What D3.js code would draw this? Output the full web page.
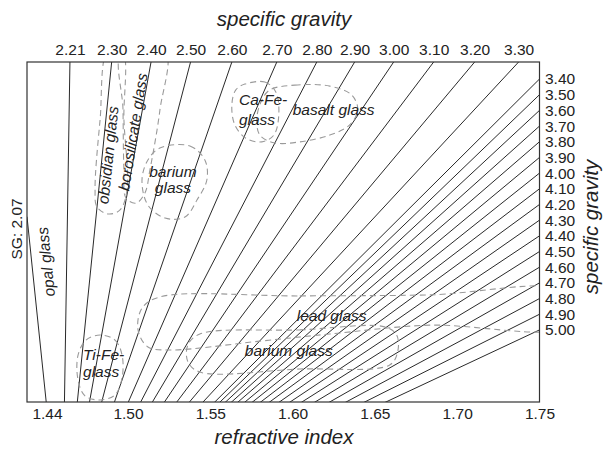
<!DOCTYPE html>
<html><head><meta charset="utf-8">
<script src="https://cdn.jsdelivr.net/npm/d3@7"></script>
<style>
html,body{margin:0;padding:0;background:#fff;}
svg{display:block;}
text{font-family:"Liberation Sans",Arial,Helvetica,sans-serif;fill:#222;}
</style></head><body>
<svg id="chart" width="604" height="449"></svg>
<script>
// ---- data ----
const riTicks = [1.44, 1.50, 1.55, 1.60, 1.65, 1.70, 1.75];
const topSG = [2.21, 2.30, 2.40, 2.50, 2.60, 2.70, 2.80, 2.90, 3.00, 3.10, 3.20, 3.30];
// refractive index where each SG line meets the top edge
const topRI = [1.4570, 1.4879, 1.5140, 1.5380, 1.5631, 1.5904, 1.6147, 1.6377, 1.6614, 1.6857, 1.7106, 1.7373];
const rightSG = [3.40, 3.50, 3.60, 3.70, 3.80, 3.90, 4.00, 4.10, 4.20, 4.30, 4.40, 4.50, 4.60, 4.70, 4.80, 4.90, 5.00];
const opalSG = 2.07;
const opalLeftT = 54.5;            // relative height where SG 2.07 meets the left edge
const fanOrigin = [1.4511, -44.7]; // common point of the SG lines [RI, relative height]

// glass fields: [refractive index, relative height]
const obsidian = [[1.4852,103.5],[1.4956,103.5],[1.4970,82.9],[1.4993,62.4],[1.4941,56.5],[1.4852,55.3],[1.4770,57.4],[1.4756,62.4],[1.4793,82.9]];
const borosilicate = [[1.4956,103.5],[1.5225,103.5],[1.5194,85.9],[1.5133,68.2],[1.5103,61.5],[1.5049,58.5],[1.4985,60.0],[1.4970,68.2],[1.4963,85.9]];
const bariumUpper = [[1.5194,74.7],[1.5376,75.3],[1.5467,71.2],[1.5479,65.3],[1.5419,59.4],[1.5346,54.4],[1.5225,54.1],[1.5121,57.9],[1.5085,65.3],[1.5121,71.2]];
const caFe = [[1.5710,93.5],[1.5831,94.1],[1.5898,91.2],[1.5916,84.4],[1.5886,78.5],[1.5813,76.5],[1.5716,77.6],[1.5649,81.5],[1.5631,87.4],[1.5655,91.8]];
const basalt = [[1.5862,91.8],[1.6013,93.2],[1.6226,92.9],[1.6359,90.3],[1.6396,85.9],[1.6347,81.5],[1.6226,78.5],[1.6044,76.5],[1.5892,76.2],[1.5801,78.5],[1.5783,83.5],[1.5813,88.8]];
const tiFe = [[1.4793,19.7],[1.4904,18.2],[1.4956,13.8],[1.4956,7.1],[1.4904,2.1],[1.4793,0.6],[1.4681,1.8],[1.4630,6.5],[1.4630,13.8],[1.4689,18.2]];
const lead = [[1.5194,30.9],[1.6044,31.2],[1.6833,31.5],[1.7621,32.9],[1.7621,27.1],[1.7621,21.8],[1.6833,22.6],[1.6226,20.0],[1.5801,17.9],[1.5255,15.3],[1.5121,16.2],[1.5061,21.2],[1.5085,27.6]];
const bariumLower = [[1.5437,20.0],[1.6044,21.2],[1.6559,22.1],[1.6632,19.7],[1.6638,14.7],[1.6590,10.9],[1.6044,9.7],[1.5437,8.8],[1.5364,11.8],[1.5364,16.8]];
const fields = [obsidian, borosilicate, bariumUpper, caFe, basalt, tiFe, lead, bariumLower];

const labelTexts = ["SG: 2.07", "opal glass", "obsidian glass", "borosilicate glass", "barium", "glass", "Ca-Fe-", "glass", "basalt glass", "Ti-Fe-", "glass", "lead glass", "barium glass"];
const labelRI =    [1.4178, 1.4393, 1.4852, 1.5030, 1.5273, 1.5273, 1.5674, 1.5674, 1.6001, 1.4667, 1.4667, 1.6025, 1.5710];
const labelT =     [50.9, 41.2, 72.6, 79.4, 66.2, 61.5, 87.4, 81.5, 84.4, 12.4, 7.4, 23.8, 13.5];
const labelRot =   [-90, -96, -84, -81, 0, 0, 0, 0, 0, 0, 0, 0, 0];

// ---- layout ----
const svg = d3.select("#chart");
const L = 27, R = 539.5, T = 62, B = 402;
const x = d3.scaleLinear().domain([1.4252, 1.44, 1.50, 1.75]).range([L, 47, 128, R]);
const y = d3.scaleLinear().domain([0, 100]).range([B, T]);
const ySG = d3.scaleLinear().domain([3.4, 5.0]).range([y(95.0), y(21.2)]);
const fmt = d3.format(".2f");
const font = '"Liberation Sans",Arial,Helvetica,sans-serif';

svg.append("defs").append("clipPath").attr("id", "frameClip")
  .append("rect").attr("x", L).attr("y", T).attr("width", R - L).attr("height", B - T);

const plot = svg.append("g").attr("clip-path", "url(#frameClip)");

// SG lines
const P = [x(fanOrigin[0]), y(fanOrigin[1])];
const ends = [];
ends.push([x(x.domain()[0]), y(opalLeftT)]);
topRI.forEach(r => ends.push([x(r), y(100)]));
rightSG.forEach(s => ends.push([x(1.75), ySG(s)]));
plot.selectAll("line.sg").data(ends).join("line")
  .attr("class", "sg")
  .attr("x1", P[0]).attr("y1", P[1])
  .attr("x2", d => d[0]).attr("y2", d => d[1])
  .attr("stroke", "#111").attr("stroke-width", 0.9);

// glass fields
const outline = d3.line().x(d => x(d[0])).y(d => y(d[1])).curve(d3.curveCatmullRomClosed.alpha(0.5));
plot.selectAll("path.field").data(fields).join("path")
  .attr("class", "field")
  .attr("d", outline)
  .attr("fill", "none").attr("stroke", "#9a9a9a").attr("stroke-width", 1.1)
  .attr("stroke-dasharray", "6,4");

// frame
svg.append("rect").attr("x", L).attr("y", T).attr("width", R - L).attr("height", B - T)
  .attr("fill", "none").attr("stroke", "#333").attr("stroke-width", 1.2);

// axes
const styleAxis = g => {
  g.select(".domain").remove();
  g.selectAll("text").attr("font-family", font).attr("font-size", 15.5).attr("fill", "#222");
};
svg.append("g").attr("transform", `translate(0,${B})`)
  .call(d3.axisBottom(x).tickValues(riTicks).tickFormat(fmt).tickSize(0).tickPadding(6))
  .call(styleAxis);
svg.append("g").attr("transform", `translate(0,${T})`)
  .call(d3.axisTop(x).tickValues(topRI).tickFormat((d, i) => fmt(topSG[i])).tickSize(0).tickPadding(7))
  .call(styleAxis);
svg.append("g").attr("transform", `translate(${R},0)`)
  .call(d3.axisRight(ySG).tickValues(rightSG).tickFormat(fmt).tickSize(0).tickPadding(5.5))
  .call(styleAxis);

// axis titles
svg.append("text").attr("x", 284).attr("y", 26).attr("text-anchor", "middle")
  .attr("font-style", "italic").attr("font-size", 20.5).text("specific gravity");
svg.append("text").attr("x", 284).attr("y", 444).attr("text-anchor", "middle")
  .attr("font-style", "italic").attr("font-size", 20.5).text("refractive index");
svg.append("text").attr("transform", "translate(598,227) rotate(-90)").attr("text-anchor", "middle")
  .attr("font-style", "italic").attr("font-size", 20.5).text("specific gravity");

// field labels
labelTexts.forEach((t, i) => {
  const rot = labelRot[i];
  const tx = svg.append("text")
    .attr("font-size", 15.5)
    .attr("font-style", i === 0 ? "normal" : "italic")
    .text(t);
  if (rot !== 0) {
    tx.attr("transform", `translate(${x(labelRI[i])},${y(labelT[i])}) rotate(${rot})`)
      .attr("text-anchor", "middle").attr("dy", "0.35em");
  } else {
    tx.attr("x", x(labelRI[i])).attr("y", y(labelT[i]))
      .attr("text-anchor", (t === "barium" || (t === "glass" && i === 5)) ? "middle" : "start");
  }
});
</script>
</body></html>
